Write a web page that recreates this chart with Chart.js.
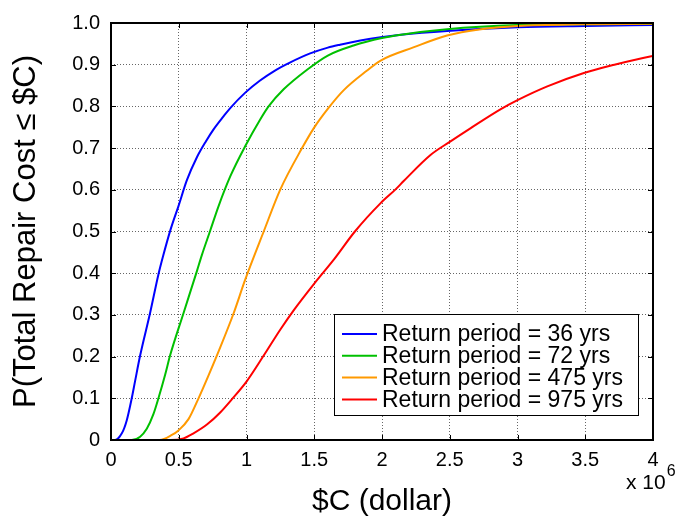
<!DOCTYPE html>
<html>
<head>
<meta charset="utf-8">
<script src="https://cdn.jsdelivr.net/npm/chart.js@4.4.0/dist/chart.umd.min.js"></script>
<style>
  html, body { margin: 0; padding: 0; background: #fff; }
  canvas { display: block; }
</style>
</head>
<body>
<canvas id="cdfChart" width="685" height="520"></canvas>
<script>
const FONT = "'Liberation Sans', Arial, Helvetica, sans-serif";

// repair cost in millions of dollars, probability
const cost36 = [0, 0.03, 0.08, 0.116, 0.153, 0.177, 0.215, 0.288, 0.35, 0.387, 0.44, 0.498, 0.56, 0.634, 0.70, 0.757, 0.83, 0.88, 0.991, 1.10, 1.21, 1.32, 1.47, 1.60, 1.69, 1.84, 1.99, 2.14, 2.48, 3.0, 3.5, 4.0];
const prob36 = [0, 0, 0.016, 0.047, 0.10, 0.14, 0.2025, 0.304, 0.397, 0.444, 0.505, 0.561, 0.623, 0.678, 0.716, 0.745, 0.776, 0.796, 0.833, 0.862, 0.886, 0.905, 0.927, 0.941, 0.948, 0.958, 0.966, 0.972, 0.981, 0.99, 0.993, 0.995];

const cost72 = [0, 0.153, 0.215, 0.264, 0.313, 0.35, 0.40, 0.436, 0.535, 0.634, 0.671, 0.73, 0.794, 0.88, 0.991, 1.10, 1.163, 1.274, 1.447, 1.60, 1.79, 2.0, 2.14, 2.48, 3.0, 3.5, 4.0];
const prob72 = [0, 0, 0.008, 0.027, 0.062, 0.10, 0.157, 0.2025, 0.304, 0.405, 0.444, 0.50, 0.561, 0.632, 0.705, 0.768, 0.80, 0.841, 0.888, 0.922, 0.946, 0.964, 0.972, 0.985, 0.995, 0.997, 0.998];

const cost475 = [0, 0.36, 0.449, 0.498, 0.572, 0.646, 0.72, 0.794, 0.905, 0.991, 1.127, 1.25, 1.41, 1.497, 1.607, 1.718, 1.89, 1.99, 2.236, 2.48, 2.73, 3.0, 3.47, 4.0];
const prob475 = [0, 0, 0.012, 0.023, 0.05, 0.10, 0.155, 0.2125, 0.304, 0.385, 0.50, 0.601, 0.70, 0.748, 0.797, 0.839, 0.886, 0.91, 0.942, 0.97, 0.985, 0.993, 0.997, 0.998];

const cost975 = [0, 0.44, 0.535, 0.609, 0.708, 0.806, 0.893, 1.0, 1.127, 1.25, 1.348, 1.497, 1.65, 1.80, 1.99, 2.10, 2.16, 2.36, 2.5, 2.655, 2.88, 3.0, 3.22, 3.49, 3.715, 3.91, 4.0];
const prob975 = [0, 0, 0.004, 0.016, 0.037, 0.066, 0.098, 0.14, 0.2025, 0.265, 0.311, 0.374, 0.435, 0.50, 0.568, 0.601, 0.621, 0.684, 0.715, 0.748, 0.794, 0.815, 0.848, 0.88, 0.90, 0.915, 0.921];

const seriesLabels = ['Return period = 36 yrs', 'Return period = 72 yrs', 'Return period = 475 yrs', 'Return period = 975 yrs'];
const xTickLabels = ['0', '0.5', '1', '1.5', '2', '2.5', '3', '3.5', '4'];
const yTickLabels = ['0', '0.1', '0.2', '0.3', '0.4', '0.5', '0.6', '0.7', '0.8', '0.9', '1.0'];

function toPoints(xs, ys) {
    return xs.map((x, i) => ({x: x, y: ys[i]}));
}

function makeSeries(label, xs, ys, color, order) {
    return {
        label: label,
        data: toPoints(xs, ys),
        borderColor: color,
        backgroundColor: color,
        borderWidth: 2,
        pointRadius: 0,
        cubicInterpolationMode: 'monotone',
        fill: false,
        order: order
    };
}

// frame, inward ticks, exponent label and the boxed legend, MATLAB style
const matlabFrame = {
    id: 'matlabFrame',
    afterDraw(chart) {
        const {ctx, chartArea: a, scales} = chart;
        ctx.save();
        ctx.strokeStyle = '#000';
        ctx.lineWidth = 1;
        ctx.beginPath();
        scales.x.ticks.forEach(t => {
            const px = Math.round(scales.x.getPixelForValue(t.value)) + 0.5;
            ctx.moveTo(px, a.bottom); ctx.lineTo(px, a.bottom - 5);
            ctx.moveTo(px, a.top); ctx.lineTo(px, a.top + 5);
        });
        scales.y.ticks.forEach(t => {
            const py = Math.round(scales.y.getPixelForValue(t.value)) + 0.5;
            ctx.moveTo(a.left, py); ctx.lineTo(a.left + 5, py);
            ctx.moveTo(a.right, py); ctx.lineTo(a.right - 5, py);
        });
        ctx.stroke();

        ctx.lineWidth = 2;
        ctx.strokeRect(a.left, a.top, a.right - a.left, a.bottom - a.top);

        // x 10^6
        ctx.fillStyle = '#000';
        ctx.textBaseline = 'alphabetic';
        ctx.textAlign = 'left';
        ctx.font = '21px ' + FONT;
        ctx.fillText('x 10', 626, 489);
        const w = ctx.measureText('x 10').width;
        ctx.font = '16px ' + FONT;
        ctx.fillText('6', 626 + w + 1, 476);

        // legend
        const box = {left: 334, top: 314, right: 638, bottom: 415};
        ctx.fillStyle = '#fff';
        ctx.fillRect(box.left, box.top, box.right - box.left, box.bottom - box.top);
        ctx.lineWidth = 1;
        ctx.strokeStyle = '#000';
        ctx.strokeRect(box.left + 0.5, box.top + 0.5, box.right - box.left, box.bottom - box.top);
        ctx.font = '23px ' + FONT;
        ctx.textBaseline = 'middle';
        chart.data.datasets.forEach((ds, i) => {
            const y = box.top + 20 + i * 21.8;
            ctx.strokeStyle = ds.borderColor;
            ctx.lineWidth = 2;
            ctx.beginPath();
            ctx.moveTo(342, y);
            ctx.lineTo(377, y);
            ctx.stroke();
            ctx.fillStyle = '#000';
            ctx.fillText(ds.label, 382, y + 1);
        });
        ctx.restore();
    }
};

const gridStyle = {
    color: 'rgba(0, 0, 0, 0.6)',
    lineWidth: 1,
    drawTicks: false
};

new Chart(document.getElementById('cdfChart'), {
    type: 'line',
    data: {
        datasets: [
            makeSeries(seriesLabels[0], cost36, prob36, '#0000ff', 3),
            makeSeries(seriesLabels[1], cost72, prob72, '#00c000', 2),
            makeSeries(seriesLabels[2], cost475, prob475, '#ff9900', 1),
            makeSeries(seriesLabels[3], cost975, prob975, '#ff0000', 0)
        ]
    },
    options: {
        responsive: false,
        animation: false,
        layout: {padding: {top: 12, right: 32, left: 0, bottom: 0}},
        plugins: {
            legend: {display: false},
            tooltip: {enabled: false}
        },
        scales: {
            x: {
                type: 'linear',
                min: 0,
                max: 4,
                afterFit: (scale) => { scale.height = 80; },
                grid: gridStyle,
                border: {display: false, dash: [1, 2]},
                ticks: {
                    stepSize: 0.5,
                    padding: 8,
                    color: '#000',
                    font: {family: FONT, size: 20},
                    maxRotation: 0,
                    callback: (value, index) => xTickLabels[index]
                },
                title: {
                    display: true,
                    text: '$C (dollar)',
                    color: '#000',
                    font: {family: FONT, size: 30},
                    padding: {top: 2, bottom: 0}
                }
            },
            y: {
                min: 0,
                max: 1,
                afterFit: (scale) => { scale.width = 111; },
                grid: gridStyle,
                border: {display: false, dash: [1, 2]},
                ticks: {
                    stepSize: 0.1,
                    padding: 11,
                    color: '#000',
                    font: {family: FONT, size: 20},
                    callback: (value, index) => yTickLabels[index]
                },
                title: {
                    display: true,
                    text: 'P(Total Repair Cost ≤ $C)',
                    color: '#000',
                    font: {family: FONT, size: 31},
                    padding: {top: 8, bottom: 0}
                }
            }
        }
    },
    plugins: [matlabFrame]
});
</script>
</body>
</html>
